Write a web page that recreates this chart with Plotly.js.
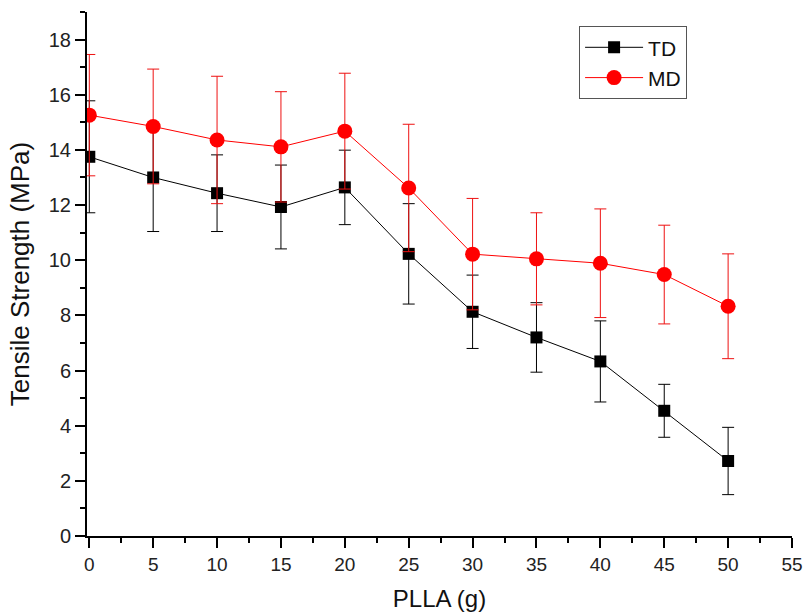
<!DOCTYPE html>
<html>
<head>
<meta charset="utf-8">
<script src="https://cdn.plot.ly/plotly-3.0.1.min.js"></script>
<style>body{margin:0;background:#fff;}#chart{width:803px;height:613px;}</style>
</head>
<body>
<div id="chart"></div>
<script>
const pllaG = [0, 5, 10, 15, 20, 25, 30, 35, 40, 45, 50];
const tdValues = [13.75, 13.0, 12.43, 11.93, 12.64, 10.23, 8.13, 7.20, 6.33, 4.54, 2.72];
const tdErrors = [2.03, 1.96, 1.39, 1.52, 1.35, 1.82, 1.33, 1.26, 1.47, 0.96, 1.22];
const mdValues = [15.26, 14.85, 14.36, 14.11, 14.68, 12.62, 10.22, 10.05, 9.89, 9.48, 8.33];
const mdErrors = [2.2, 2.08, 2.31, 2.0, 2.1, 2.31, 2.02, 1.67, 1.97, 1.79, 1.9];
const seriesNames = ['TD', 'MD'];

const traces = [
  {
    x: pllaG, y: tdValues, name: seriesNames[0], type: 'scatter', mode: 'lines+markers',
    line: {color: '#000000', width: 1},
    marker: {symbol: 'square', size: 12, color: '#000000'},
    error_y: {type: 'data', array: tdErrors, visible: true, color: '#000000', thickness: 1, width: 6}
  },
  {
    x: pllaG, y: mdValues, name: seriesNames[1], type: 'scatter', mode: 'lines+markers',
    line: {color: '#ff0000', width: 1},
    marker: {symbol: 'circle', size: 15, color: '#ff0000'},
    error_y: {type: 'data', array: mdErrors, visible: true, color: '#ee1111', thickness: 1, width: 6}
  }
];

const layout = {
  width: 803, height: 613,
  margin: {l: 87, r: 11, t: 12, b: 77},
  paper_bgcolor: '#ffffff', plot_bgcolor: '#ffffff',
  font: {family: 'Arial, Liberation Sans, sans-serif', color: '#222222', size: 19},
  showlegend: true,
  legend: {
    x: 0.698, y: 0.973, xanchor: 'left', yanchor: 'top',
    bordercolor: '#555555', borderwidth: 1, bgcolor: '#ffffff',
    font: {size: 21, color: '#111111'}, itemwidth: 58, tracegroupgap: 0
  },
  xaxis: {
    range: [-0.18, 55], showgrid: false, zeroline: false,
    showline: true, linecolor: '#000000', linewidth: 2,
    ticks: 'outside', ticklen: 10, tickwidth: 2, tickcolor: '#000000',
    tick0: 0, dtick: 5,
    minor: {ticks: 'outside', ticklen: 5, tickwidth: 2, tickcolor: '#000000', dtick: 2.5},
    tickfont: {size: 19},
    title: {text: 'PLLA (g)', font: {size: 24, color: '#111111'}, standoff: 16}
  },
  yaxis: {
    range: [0, 19], showgrid: false, zeroline: false,
    showline: true, linecolor: '#000000', linewidth: 2,
    ticks: 'outside', ticklen: 10, tickwidth: 2, tickcolor: '#000000',
    tick0: 0, dtick: 2,
    minor: {ticks: 'outside', ticklen: 5, tickwidth: 2, tickcolor: '#000000', dtick: 1},
    tickfont: {size: 20},
    title: {text: 'Tensile Strength (MPa)', font: {size: 26, color: '#111111'}, standoff: 12}
  }
};

Plotly.newPlot('chart', traces, layout, {displayModeBar: false, staticPlot: true});
</script>
</body>
</html>
